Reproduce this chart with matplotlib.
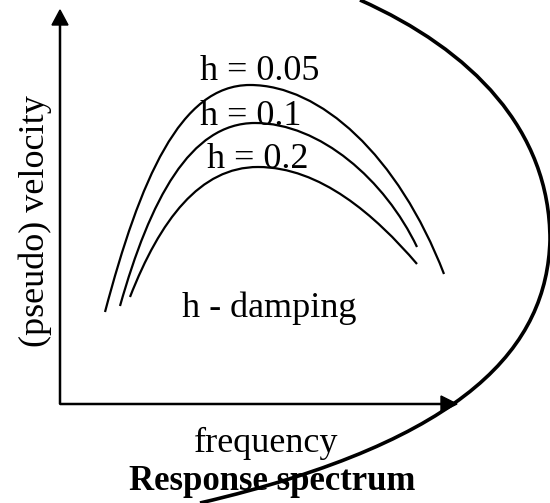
import numpy as np
import matplotlib
matplotlib.use("Agg")
import matplotlib.pyplot as plt
from matplotlib.path import Path
from matplotlib.patches import PathPatch

plt.rcParams['font.family'] = ['Liberation Serif', 'DejaVu Serif']

# damping values and the sketched spectra (start, rise ctrl, peak, fall ctrl, end)
damping = ['0.05', '0.1', '0.2']
curve_005 = [(105, 312), (140, 180), (180, 85), (250, 85), (320, 85), (398, 155), (444, 274)]
curve_01 = [(120, 306), (150, 200), (190, 123), (255, 123), (320, 123), (385, 180), (417, 247)]
curve_02 = [(130, 297), (160, 220), (200, 167), (258, 167), (320, 167), (375, 215), (417, 264)]
curves = [curve_005, curve_01, curve_02]

# big swoosh around the figure
arc = [(360, 0), (472, 50), (550, 130), (550, 240), (547, 345), (470, 440), (200, 503)]

label_pos = [(200, 80), (200, 125), (207, 168)]

fig = plt.figure(figsize=(5.5, 5.03), dpi=100)
ax = fig.add_axes([0, 0, 1, 1])
ax.set_xlim(0, 550)
ax.set_ylim(503, 0)
ax.axis('off')

codes = [Path.MOVETO] + [Path.CURVE4] * 6
for c in curves:
    ax.add_patch(PathPatch(Path(c, codes), fill=False, lw=1.6, ec='black', capstyle='butt'))

ax.add_patch(PathPatch(Path(arc, codes), fill=False, lw=2.6, ec='black', capstyle='butt'))

# axes with arrows
ax.arrow(60, 404, 0, -394, width=1.1, head_width=16, head_length=15,
         length_includes_head=True, color='black')
ax.arrow(60, 404, 397, 0, width=1.1, head_width=16, head_length=16,
         length_includes_head=True, color='black')

fs = 26
for (x, y), d in zip(label_pos, damping):
    ax.text(x, y, 'h = ' + d, fontsize=fs, va='baseline', ha='left')

ax.text(182, 317, 'h - damping', fontsize=fs, va='baseline', ha='left')
ax.text(266, 452, 'frequency', fontsize=fs, va='baseline', ha='center')
ax.text(272, 490, 'Response spectrum', fontsize=25, fontweight='bold', va='baseline', ha='center')
ax.text(35, 221, '(pseudo) velocity', fontsize=fs, rotation=90, va='center', ha='center')

fig.savefig('out.png', dpi=100)
